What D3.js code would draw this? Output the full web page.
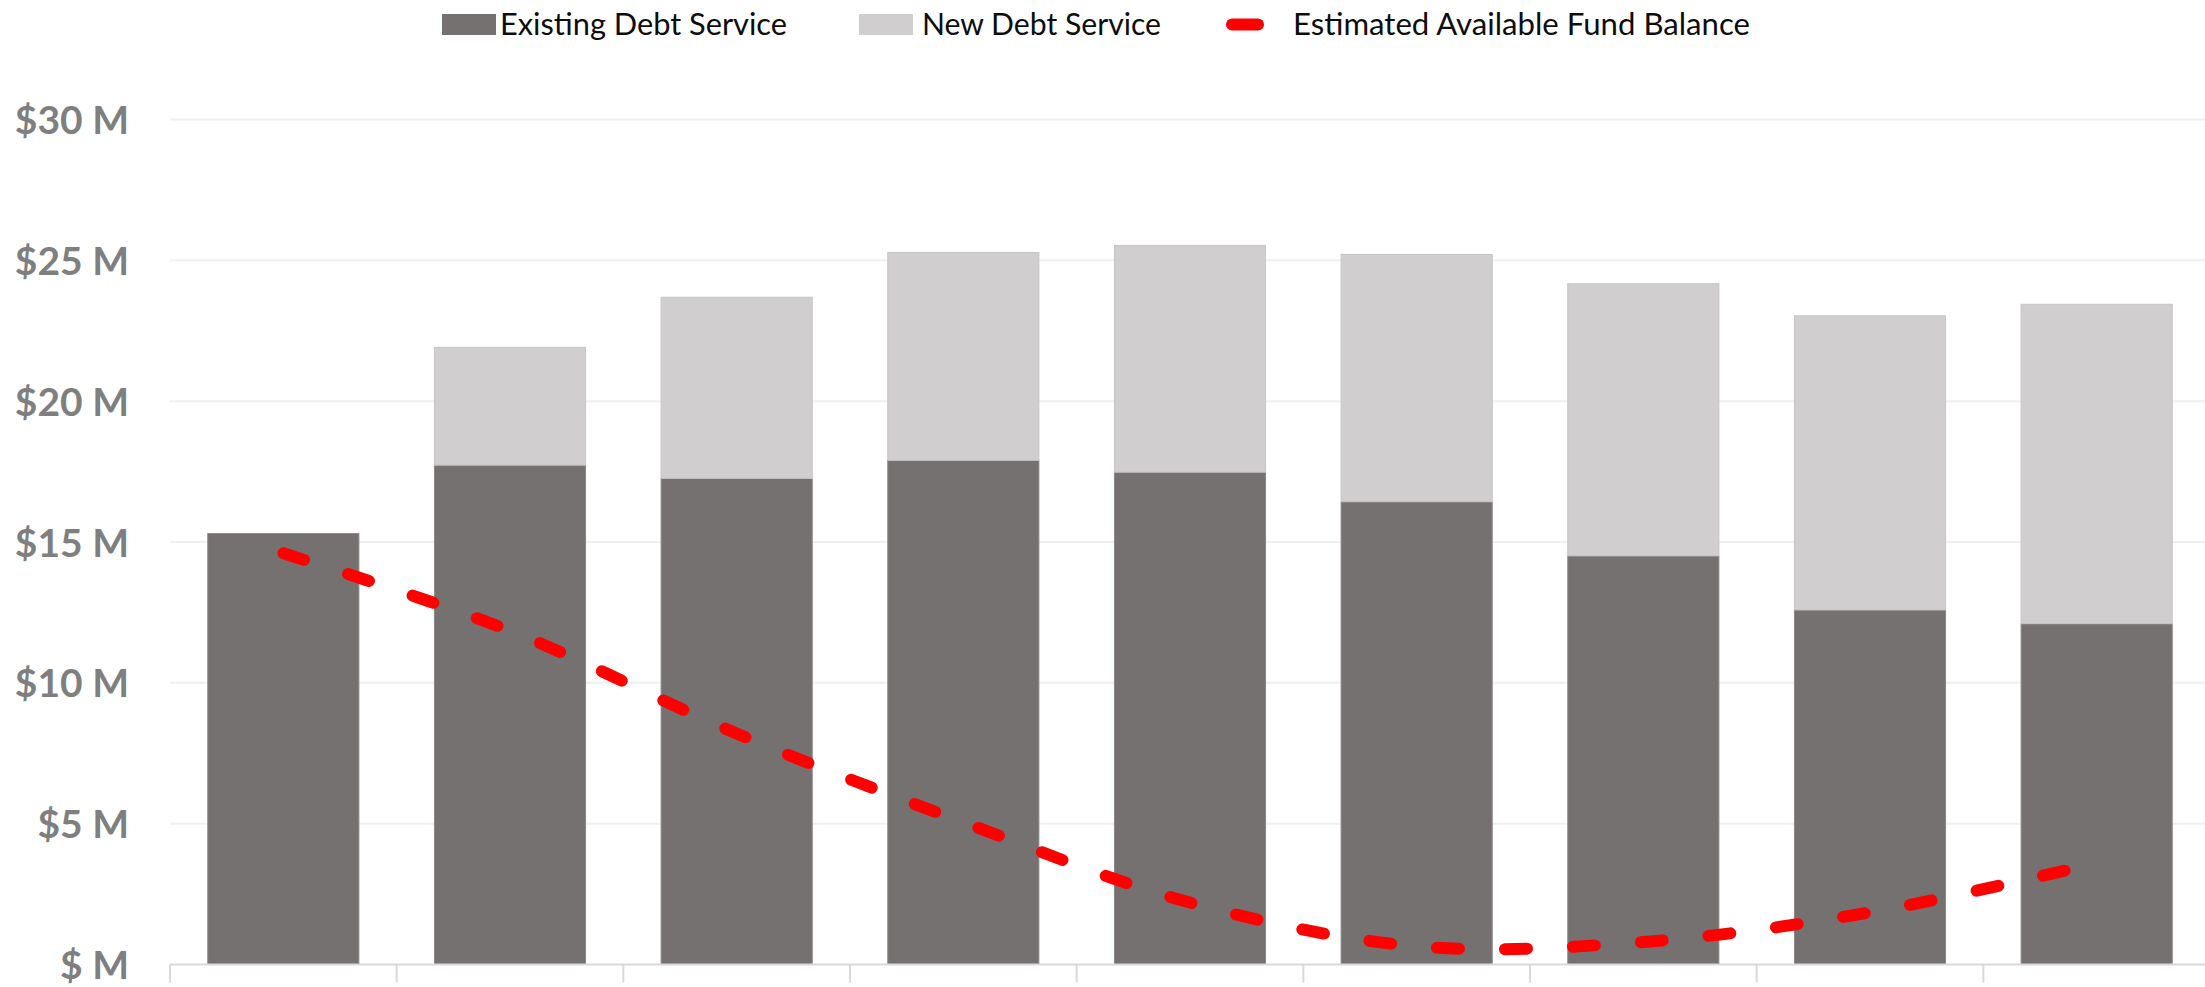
<!DOCTYPE html>
<html>
<head>
<meta charset="utf-8">
<script src="https://cdn.jsdelivr.net/npm/d3@7"></script>
<style>
  html, body { margin: 0; padding: 0; background: #ffffff; }
  svg { display: block; }
</style>
</head>
<body>
<svg id="chart" width="2205" height="987"></svg>
<script>
// ---- data ----
const categories = ["Y1", "Y2", "Y3", "Y4", "Y5", "Y6", "Y7", "Y8", "Y9"];
const existingDebt = [15.3, 17.73, 17.26, 17.9, 17.48, 16.43, 14.51, 12.59, 12.1];
const newDebt = [0, 4.18, 6.43, 7.38, 8.05, 8.78, 9.66, 10.44, 11.34];
const fundBalance = [14.6, 11.85, 8.2, 5.05, 2.2, 0.65, 0.8, 1.85, 3.6];
const yTicks = [0, 5, 10, 15, 20, 25, 30];
const yTickLabels = ["$ M", "$5 M", "$10 M", "$15 M", "$20 M", "$25 M", "$30 M"];
const seriesNames = ["Existing Debt Service", "New Debt Service", "Estimated Available Fund Balance"];

// ---- style ----
const colExisting = "#767171";
const colNew = "#d0cece";
const colLine = "#ff0000";

const svg = d3.select("#chart");

const x = d3.scaleBand()
  .domain(categories)
  .range([170, 2210])
  .paddingInner(1 / 3)
  .paddingOuter(1 / 6);

const y = d3.scaleLinear().domain([0, 30]).range([964.5, 119.5]);

// gridlines
svg.append("g")
  .selectAll("line")
  .data(yTicks.filter(d => d > 0))
  .join("line")
  .attr("x1", 170)
  .attr("x2", 2205)
  .attr("y1", d => y(d))
  .attr("y2", d => y(d))
  .attr("stroke", "#f0f0f0")
  .attr("stroke-width", 2);

// y axis labels
const yAxis = d3.axisLeft(y)
  .tickValues(yTicks)
  .tickFormat((d, i) => yTickLabels[i])
  .tickSize(0)
  .tickPadding(0);

const gy = svg.append("g")
  .attr("transform", "translate(129,0)")
  .call(yAxis);
gy.select(".domain").remove();
gy.selectAll("text")
  .attr("font-family", "Lato, 'Open Sans', sans-serif")
  .attr("font-weight", "bold")
  .attr("font-size", 39)
  .attr("fill", "#7f7f7f")
  .attr("dy", "0.36em");

// stacked bars
const stackData = categories.map((c, i) => ({ cat: c, existing: existingDebt[i], newd: newDebt[i] }));
const stack = d3.stack().keys(["existing", "newd"]);
const stacked = stack(stackData);
const colors = { existing: colExisting, newd: colNew };
const strokes = { existing: "#8a8686", newd: "#c6c4c4" };

svg.append("g")
  .selectAll("g")
  .data(stacked)
  .join("g")
  .attr("fill", d => colors[d.key])
  .attr("stroke", d => strokes[d.key])
  .selectAll("rect")
  .data(d => d.filter(v => v[1] - v[0] > 0))
  .join("rect")
  .attr("x", d => x(d.data.cat))
  .attr("width", x.bandwidth())
  .attr("y", d => y(d[1]))
  .attr("height", d => y(d[0]) - y(d[1]))
  .attr("stroke-width", 1);

// x axis line and ticks
const xAxisG = svg.append("g");
xAxisG.append("line")
  .attr("x1", 170).attr("x2", 2205)
  .attr("y1", y(0)).attr("y2", y(0))
  .attr("stroke", "#d9d9d9").attr("stroke-width", 2);
const boundaries = d3.range(categories.length + 1).map(i => x.range()[0] + i * x.step());
xAxisG.selectAll("line.tick")
  .data(boundaries)
  .join("line")
  .attr("class", "tick")
  .attr("x1", d => d).attr("x2", d => d)
  .attr("y1", y(0)).attr("y2", y(0) + 18)
  .attr("stroke", "#d9d9d9").attr("stroke-width", 2);

// fund balance line
const line = d3.line()
  .x((d, i) => x(categories[i]) + x.bandwidth() / 2)
  .y(d => y(d))
  .curve(d3.curveCatmullRom.alpha(0.5));

svg.append("path")
  .datum(fundBalance)
  .attr("d", line)
  .attr("fill", "none")
  .attr("stroke", colLine)
  .attr("stroke-width", 12)
  .attr("stroke-linecap", "round")
  .attr("stroke-dasharray", "22,46");

// legend
const legend = svg.append("g")
  .attr("font-family", "Lato, 'Open Sans', sans-serif")
  .attr("font-size", 30)
  .attr("fill", "#0d0d0d");

legend.append("rect").attr("x", 442).attr("y", 14).attr("width", 54).attr("height", 21).attr("fill", colExisting);
legend.append("text").attr("x", 500).attr("y", 35)
  .attr("textLength", 287).attr("lengthAdjust", "spacingAndGlyphs").text(seriesNames[0]);

legend.append("rect").attr("x", 859).attr("y", 14).attr("width", 54).attr("height", 21).attr("fill", colNew);
legend.append("text").attr("x", 922).attr("y", 35)
  .attr("textLength", 239).attr("lengthAdjust", "spacingAndGlyphs").text(seriesNames[1]);

legend.append("line")
  .attr("x1", 1232).attr("x2", 1258).attr("y1", 24.5).attr("y2", 24.5)
  .attr("stroke", colLine).attr("stroke-width", 12).attr("stroke-linecap", "round");
legend.append("text").attr("x", 1293).attr("y", 35)
  .attr("textLength", 457).attr("lengthAdjust", "spacingAndGlyphs").text(seriesNames[2]);
</script>
</body>
</html>
